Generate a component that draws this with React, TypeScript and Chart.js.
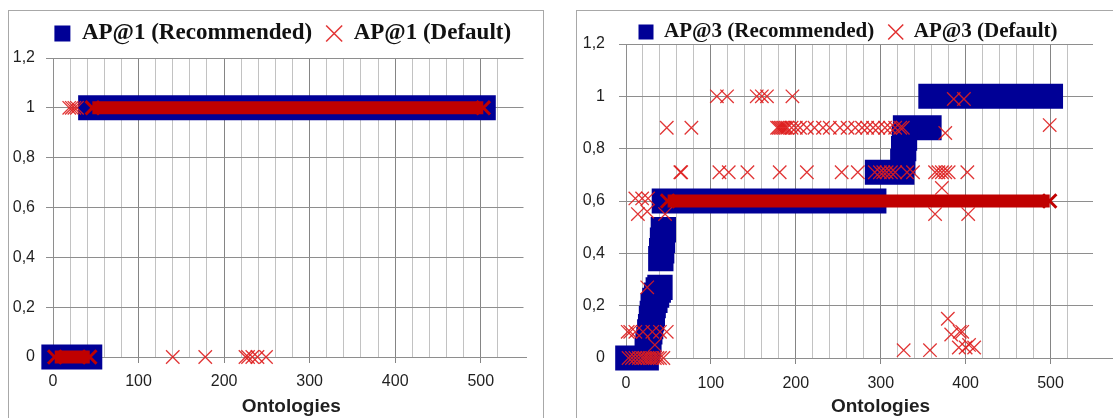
import React, { useEffect, useRef } from 'react';
import { Chart, registerables } from 'chart.js';

Chart.register(...registerables);

type Run = [number, number, number]; // [first ontology, last ontology, value]
type Row = [number, number[]]; // [value, ontologies]

// ---------- axes ----------
const X_MAX = 550;
const X_TICK_VALUES = [0, 100, 200, 300, 400, 500];
const Y_TICK_LABELS = ['0', '0,2', '0,4', '0,6', '0,8', '1', '1,2'];
const X_TITLE = 'Ontologies';

// ---------- AP@1 ----------
const ap1Labels = ['AP@1 (Recommended)', 'AP@1 (Default)'];
const ap1RecommendedRuns: Run[] = [
  [1, 43, 0],
  [44, 503, 1],
];
const ap1RecommendedX: number[] = [];
const ap1RecommendedY: number[] = [];
const ap1DefaultRuns: Run[] = [
  [2, 43, 0],
  [46, 503, 1],
];
const ap1DefaultRows: Row[] = [
  [1, [19, 22, 25, 28]],
  [0, [140, 178, 225, 228, 233, 239, 249]],
];

// ---------- AP@3 ----------
const ap3Labels = ['AP@3 (Recommended)', 'AP@3 (Default)'];
const ap3RecommendedRuns: Run[] = [
  [2, 24, 0],
  [45, 292, 0.6],
  [296, 325, 0.71],
  [329, 357, 0.88],
  [359, 500, 1],
];
const ap3RecommendedX = [25, 26, 27, 28, 29, 30, 31, 32, 34, 36, 38, 40, 41, 42, 43, 44, 326, 327, 328];
const ap3RecommendedY = [0.03, 0.05, 0.07, 0.1, 0.12, 0.15, 0.17, 0.2, 0.22, 0.24, 0.26, 0.27, 0.38, 0.41, 0.45, 0.49, 0.75, 0.8, 0.84];
const ap3DefaultRuns: Run[] = [[49, 499, 0.6]];
const ap3DefaultRows: Row[] = [
  [1, [107, 119, 154, 160, 166, 196]],
  [0.99, [386, 398]],
  [0.89, [499]],
  [0.88, [48, 77, 178, 180, 182, 184, 186, 188, 190, 195, 200, 205, 213, 222, 232, 240, 252, 261, 270, 278, 284, 291, 297, 305, 311, 317, 323, 326]],
  [0.86, [376]],
  [0.71, [64, 65, 110, 121, 143, 181, 213, 254, 273, 293, 299, 303, 307, 312, 317, 331, 338, 364, 368, 372, 376, 380, 402]],
  [0.65, [372]],
  [0.61, [11, 19, 26]],
  [0.56, [25]],
  [0.55, [14, 46, 364, 403]],
  [0.27, [25]],
  [0.15, [379]],
  [0.1, [2, 5, 11, 20, 31, 40, 48, 393, 396]],
  [0.09, [383]],
  [0.05, [34, 404]],
  [0.04, [392, 400, 410]],
  [0.03, [327, 358]],
  [0, [3, 7, 11, 15, 19, 22, 25, 28, 31, 34, 37, 40, 44]],
];

// ---------- styles ----------
const BLUE = '#000096';
const RED_BAND = '#c00000';
const RED_X = 'rgba(222,30,30,0.9)';
const GRID_MAJOR = '#858585';
const GRID_MINOR = '#c2c2c2';
const GRID_H = '#8e8e8e';
const TEXT = '#1f1f1f';
const TICK_FONT = { family: '"Liberation Sans", Arial, sans-serif', size: 16 };
const TITLE_FONT = { family: '"Liberation Sans", Arial, sans-serif', size: 19, weight: 'bold' as const };

interface PanelCfg {
  left: number;
  width: number;
  height: number;
  labels: string[];
  legendFont: number;
  legendBox: number;
  legendPad: number;
  legendExtra: number;
  legendDx: number;
  padR: number;
  padT: number;
  yWidth: number;
  xHeight: number;
  yTickPad: number;
  xTickPad: number;
  titleDx: number;
  recRuns: Run[];
  recX: number[];
  recY: number[];
  defRuns: Run[];
  defRows: Row[];
}

function buildDatasets(c: PanelCfg) {
  const ds: any[] = [];
  // first in array is drawn on top
  c.defRows.forEach(([y, xs]) => {
    ds.push({
      data: xs.map((x) => ({ x, y })),
      showLine: false,
      pointStyle: 'crossRot',
      pointRadius: 9.5,
      pointBorderWidth: 1.3,
      pointBorderColor: RED_X,
      pointBackgroundColor: RED_X,
      clip: false,
    });
  });
  c.defRuns.forEach(([a, b, y]) => {
    ds.push({
      data: [{ x: a, y }, { x: b, y }],
      showLine: true,
      borderColor: RED_BAND,
      borderWidth: 13,
      borderCapStyle: 'butt',
      pointStyle: 'crossRot',
      pointRadius: 9.5,
      pointBorderWidth: 3,
      pointBorderColor: RED_BAND,
      pointBackgroundColor: RED_BAND,
      clip: false,
    });
  });
  if (c.recX.length) {
    ds.push({
      data: c.recX.map((x, i) => ({ x, y: c.recY[i] })),
      showLine: false,
      pointStyle: 'rect',
      pointRadius: 16.5,
      pointBorderWidth: 2,
      pointBorderColor: BLUE,
      pointBackgroundColor: BLUE,
      clip: false,
    });
  }
  c.recRuns.forEach(([a, b, y]) => {
    ds.push({
      data: [{ x: a, y }, { x: b, y }],
      showLine: true,
      borderColor: BLUE,
      borderWidth: 25,
      borderCapStyle: 'square',
      borderJoinStyle: 'round',
      pointRadius: 0,
      clip: false,
    });
  });
  return ds;
}

function makeConfig(c: PanelCfg): any {
  const legendSpacer = {
    id: 'legendSpacer',
    beforeLayout(chart: any) {
      const lg = chart.legend;
      if (lg && !lg.__patched) {
        const fit = lg.fit;
        lg.fit = function () {
          fit.call(this);
          this.height += c.legendExtra;
        };
        lg.__patched = true;
      }
    },
  };
  const boxShift = {
    id: 'boxShift',
    afterLayout(chart: any) {
      const s = chart.scales.x;
      s.left += c.titleDx;
      s.right += c.titleDx;
      const lg = chart.legend;
      if (lg) {
        lg.left += c.legendDx;
        lg.right += c.legendDx;
      }
    },
  };
  return {
    type: 'scatter',
    data: { datasets: buildDatasets(c) },
    plugins: [legendSpacer, boxShift],
    options: {
      animation: false,
      responsive: true,
      maintainAspectRatio: false,
      events: [],
      layout: { padding: { left: 0, right: c.padR, top: c.padT, bottom: 0 } },
      plugins: {
        tooltip: { enabled: false },
        title: { display: false },
        legend: {
          display: true,
          position: 'top',
          align: 'center',
          labels: {
            usePointStyle: true,
            boxWidth: c.legendBox,
            boxHeight: c.legendBox,
            padding: c.legendPad,
            color: '#111',
            font: { family: '"Liberation Serif", "Times New Roman", serif', size: c.legendFont, weight: 'bold' },
            generateLabels: () => [
              {
                text: c.labels[0],
                fillStyle: BLUE,
                strokeStyle: BLUE,
                lineWidth: 0,
                pointStyle: 'rect',
                hidden: false,
                datasetIndex: 0,
                fontColor: '#111',
              },
              {
                text: c.labels[1],
                fillStyle: 'rgba(0,0,0,0)',
                strokeStyle: 'rgba(224,40,40,0.95)',
                lineWidth: 1.5,
                pointStyle: 'crossRot',
                hidden: false,
                datasetIndex: 1,
                fontColor: '#111',
              },
            ],
          },
        },
      },
      scales: {
        x: {
          type: 'linear',
          min: 0,
          max: X_MAX,
          afterFit: (s: any) => {
            s.height = c.xHeight;
          },
          ticks: {
            stepSize: 20,
            autoSkip: false,
            maxRotation: 0,
            minRotation: 0,
            padding: c.xTickPad,
            color: TEXT,
            font: TICK_FONT,
            callback: (v: any) => {
              const n = Math.round(Number(v));
              return X_TICK_VALUES.includes(n) ? String(n) : '';
            },
          },
          grid: {
            color: (ctx: any) => {
              const v = ctx.tick ? Math.round(ctx.tick.value) : 0;
              if (v >= X_MAX) return 'rgba(0,0,0,0)';
              return v % 100 === 0 ? GRID_MAJOR : GRID_MINOR;
            },
            tickColor: (ctx: any) => {
              const v = ctx.tick ? Math.round(ctx.tick.value) : 0;
              return v % 100 === 0 && v < X_MAX ? GRID_MAJOR : 'rgba(0,0,0,0)';
            },
            tickLength: 6,
            lineWidth: 1,
          },
          border: { color: GRID_H, width: 1 },
          title: {
            display: true,
            text: X_TITLE,
            color: TEXT,
            font: TITLE_FONT,
            padding: { top: 0, bottom: 0 },
          },
        },
        y: {
          type: 'linear',
          min: 0,
          max: 1.2,
          afterFit: (s: any) => {
            s.width = c.yWidth;
          },
          ticks: {
            stepSize: 0.2,
            padding: c.yTickPad,
            color: TEXT,
            font: TICK_FONT,
            callback: (v: any) => Y_TICK_LABELS[Math.round(Number(v) * 5)] ?? '',
          },
          grid: { color: GRID_H, tickColor: GRID_H, tickLength: 7, lineWidth: 1 },
          border: { color: GRID_H, width: 1 },
        },
      },
    },
  };
}

const leftPanel: PanelCfg = {
  left: 0,
  width: 560,
  height: 418,
  labels: ap1Labels,
  legendFont: 23,
  legendBox: 16,
  legendPad: 14,
  legendExtra: 3,
  legendDx: 21,
  padR: 36.5,
  padT: 8,
  yWidth: 53,
  xHeight: 61,
  yTickPad: 11,
  xTickPad: 9,
  titleDx: 3,
  recRuns: ap1RecommendedRuns,
  recX: ap1RecommendedX,
  recY: ap1RecommendedY,
  defRuns: ap1DefaultRuns,
  defRows: ap1DefaultRows,
};

const rightPanel: PanelCfg = {
  left: 560,
  width: 553,
  height: 418,
  labels: ap3Labels,
  legendFont: 21,
  legendBox: 15,
  legendPad: 14,
  legendExtra: -8.5,
  legendDx: 21.5,
  padR: 20,
  padT: 7.5,
  yWidth: 66,
  xHeight: 60,
  yTickPad: 14,
  xTickPad: 10,
  titleDx: 21,
  recRuns: ap3RecommendedRuns,
  recX: ap3RecommendedX,
  recY: ap3RecommendedY,
  defRuns: ap3DefaultRuns,
  defRows: ap3DefaultRows,
};

function Panel({ cfg }: { cfg: PanelCfg }) {
  const ref = useRef<HTMLCanvasElement>(null);
  useEffect(() => {
    if (!ref.current) return;
    const chart = new Chart(ref.current, makeConfig(cfg));
    return () => chart.destroy();
  }, [cfg]);
  return (
    <div style={{ position: 'absolute', left: cfg.left, top: 0, width: cfg.width, height: cfg.height }}>
      <canvas ref={ref} />
    </div>
  );
}

export default function App() {
  return (
    <div
      style={{
        position: 'fixed',
        left: 0,
        top: 0,
        width: 1113,
        height: 418,
        overflow: 'hidden',
        background: '#ffffff',
      }}
    >
      <div style={{ position: 'absolute', left: 8, top: 10, width: 536, height: 430, border: '1px solid #a8a8a8', boxSizing: 'border-box' }} />
      <div style={{ position: 'absolute', left: 576, top: 10, width: 600, height: 430, border: '1px solid #a8a8a8', boxSizing: 'border-box' }} />
      <Panel cfg={leftPanel} />
      <Panel cfg={rightPanel} />
    </div>
  );
}
